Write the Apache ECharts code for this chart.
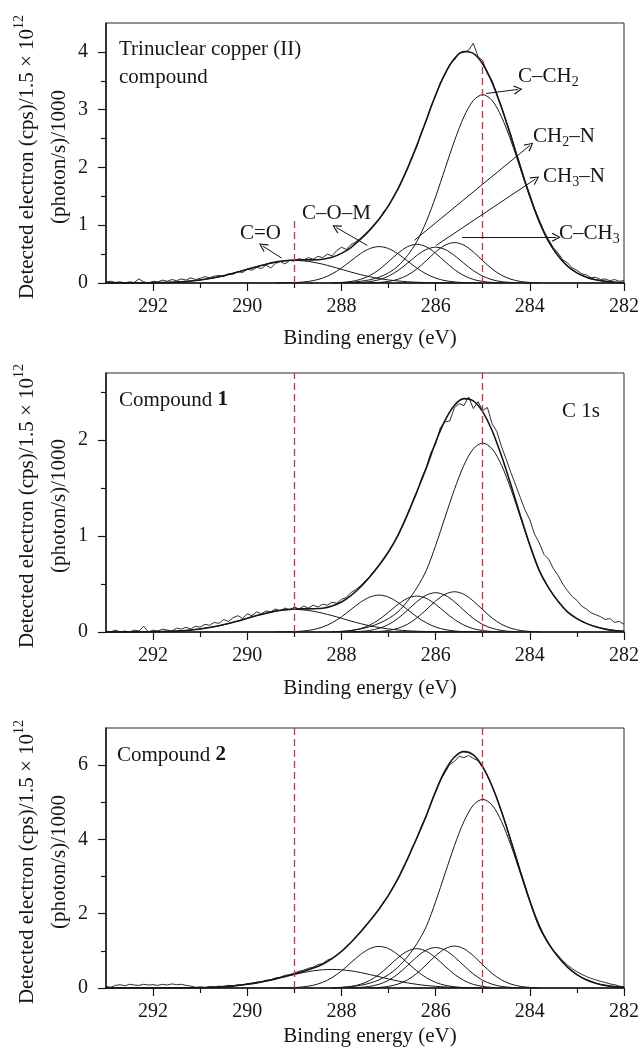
<!DOCTYPE html>
<html>
<head>
<meta charset="utf-8">
<title>C 1s XPS spectra</title>
<script src="https://cdn.jsdelivr.net/npm/echarts@6/dist/echarts.min.js"></script>
<style>
  html, body { margin: 0; padding: 0; background: #ffffff; }
  #chart { width: 642px; height: 1055px; }
</style>
</head>
<body>
<div id="chart"></div>
<script>
// ---------- energy grids (eV) ----------
const energyRaw = [
  293, 292.9, 292.8, 292.7, 292.6, 292.5, 292.4, 292.3, 292.2, 292.1,
  292, 291.9, 291.8, 291.7, 291.6, 291.5, 291.4, 291.3, 291.2, 291.1,
  291, 290.9, 290.8, 290.7, 290.6, 290.5, 290.4, 290.3, 290.2, 290.1,
  290, 289.9, 289.8, 289.7, 289.6, 289.5, 289.4, 289.3, 289.2, 289.1,
  289, 288.9, 288.8, 288.7, 288.6, 288.5, 288.4, 288.3, 288.2, 288.1,
  288, 287.9, 287.8, 287.7, 287.6, 287.5, 287.4, 287.3, 287.2, 287.1,
  287, 286.9, 286.8, 286.7, 286.6, 286.5, 286.4, 286.3, 286.2, 286.1,
  286, 285.9, 285.8, 285.7, 285.6, 285.5, 285.4, 285.3, 285.2, 285.1,
  285, 284.9, 284.8, 284.7, 284.6, 284.5, 284.4, 284.3, 284.2, 284.1,
  284, 283.9, 283.8, 283.7, 283.6, 283.5, 283.4, 283.3, 283.2, 283.1,
  283, 282.9, 282.8, 282.7, 282.6, 282.5, 282.4, 282.3, 282.2, 282.1,
  282
];
const energyFit = [
  293, 292.8, 292.6, 292.4, 292.2, 292, 291.8, 291.6, 291.4, 291.2,
  291, 290.8, 290.6, 290.4, 290.2, 290, 289.8, 289.6, 289.4, 289.2,
  289, 288.8, 288.6, 288.4, 288.2, 288, 287.8, 287.6, 287.4, 287.2,
  287, 286.8, 286.6, 286.4, 286.2, 286, 285.8, 285.6, 285.4, 285.2,
  285, 284.8, 284.6, 284.4, 284.2, 284, 283.8, 283.6, 283.4, 283.2,
  283, 282.8, 282.6, 282.4, 282.2, 282
];

// ---------- axis ticks ----------
const xMajor = [282, 284, 286, 288, 290, 292];
const xMinor = [283, 285, 287, 289, 291];
const yMajor1 = [0, 1, 2, 3, 4];
const yMinor1 = [0.5, 1.5, 2.5, 3.5];
const yMajor2 = [0, 1, 2];
const yMinor2 = [0.5, 1.5, 2.5];
const yMajor3 = [0, 2, 4, 6];
const yMinor3 = [1, 3, 5];

// reference energies marked with dashed lines, and how high each line reaches
const guideEnergies = [289, 285];
const guideTop1 = [1.13, 3.85];
const guideTop2 = [2.7, 2.7];
const guideTop3 = [7, 7];

// ---------- trinuclear copper(II) compound ----------
const raw1 = [
  0.02, 0.03, 0.01, 0.02, 0, 0.02, 0.01, 0.07, 0.02, 0,
  0.03, 0.02, 0.05, 0.03, 0.06, 0.04, 0.07, 0.05, 0.09, 0.06,
  0.08, 0.11, 0.09, 0.12, 0.13, 0.11, 0.16, 0.15, 0.2, 0.18,
  0.24, 0.22, 0.27, 0.25, 0.31, 0.26, 0.34, 0.37, 0.33, 0.39,
  0.38, 0.42, 0.4, 0.44, 0.41, 0.46, 0.44, 0.5, 0.47, 0.56,
  0.62, 0.58, 0.66, 0.71, 0.77, 0.85, 0.93, 1.02, 1.1, 1.24,
  1.33, 1.49, 1.62, 1.81, 1.97, 2.19, 2.36, 2.61, 2.8, 3.06,
  3.24, 3.47, 3.61, 3.79, 3.86, 3.98, 3.99, 4.03, 4.15, 3.92,
  3.85, 3.62, 3.5, 3.27, 3.05, 2.8, 2.56, 2.28, 2.03, 1.76,
  1.53, 1.29, 1.09, 0.9, 0.75, 0.61, 0.52, 0.4, 0.35, 0.26,
  0.22, 0.16, 0.14, 0.09, 0.1, 0.06, 0.07, 0.04, 0.06, 0.03,
  0.04
];
const envelope1 = [
  0, 0.001, 0.001, 0.002, 0.002, 0.004, 0.008, 0.013, 0.022, 0.035,
  0.053, 0.077, 0.108, 0.146, 0.19, 0.237, 0.283, 0.326, 0.361, 0.384,
  0.397, 0.4, 0.401, 0.412, 0.446, 0.513, 0.614, 0.754, 0.914, 1.107,
  1.34, 1.628, 1.98, 2.378, 2.818, 3.255, 3.625, 3.887, 4.007, 3.974,
  3.79, 3.469, 3.033, 2.535, 2.006, 1.503, 1.063, 0.717, 0.473, 0.293,
  0.176, 0.101, 0.055, 0.029, 0.013, 0.007
];
// fitted components; each list starts at the energy given in *From
const peakCO1From = 293;
const peakCO1 = [0, 0.001, 0.001, 0.002, 0.002, 0.004, 0.008, 0.013, 0.022, 0.035, 0.053, 0.077, 0.108, 0.146, 0.19, 0.237, 0.283, 0.326, 0.36, 0.382, 0.39, 0.382, 0.36, 0.326, 0.283, 0.237, 0.19, 0.146, 0.108, 0.077, 0.053, 0.035, 0.022, 0.013, 0.008, 0.004, 0.002, 0.001];
const peakCOM1From = 289.4;
const peakCOM1 = [0.001, 0.002, 0.007, 0.018, 0.041, 0.085, 0.157, 0.259, 0.382, 0.505, 0.596, 0.63, 0.596, 0.505, 0.382, 0.259, 0.157, 0.085, 0.041, 0.018, 0.007, 0.002, 0.001];
const peakCH2N1From = 288.2;
const peakCH2N1 = [0.003, 0.01, 0.026, 0.062, 0.128, 0.232, 0.37, 0.515, 0.627, 0.67, 0.627, 0.515, 0.37, 0.232, 0.128, 0.062, 0.026, 0.01, 0.003];
const peakCH3N1From = 287.8;
const peakCH3N1 = [0.003, 0.009, 0.024, 0.057, 0.118, 0.215, 0.342, 0.476, 0.58, 0.62, 0.58, 0.476, 0.342, 0.215, 0.118, 0.057, 0.024, 0.009, 0.003];
const peakCCH31From = 287.4;
const peakCCH31 = [0.003, 0.01, 0.027, 0.065, 0.134, 0.243, 0.386, 0.538, 0.655, 0.7, 0.655, 0.538, 0.386, 0.243, 0.134, 0.065, 0.027, 0.01, 0.003];
const peakCCH21From = 288.2;
const peakCCH21 = [0.003, 0.007, 0.013, 0.029, 0.055, 0.101, 0.176, 0.293, 0.473, 0.717, 1.06, 1.493, 1.979, 2.461, 2.875, 3.159, 3.26, 3.159, 2.875, 2.461, 1.979, 1.493, 1.06, 0.717, 0.473, 0.293, 0.176, 0.101, 0.055, 0.029, 0.013, 0.007];

// ---------- compound 1 ----------
const raw2 = [
  0.01, 0, 0.02, 0, 0.01, 0, 0.02, 0.01, 0.06, 0,
  0.02, 0.01, 0.03, 0.02, 0.01, 0.04, 0.03, 0.05, 0.03, 0.06,
  0.05, 0.08, 0.07, 0.1, 0.09, 0.13, 0.11, 0.15, 0.17, 0.14,
  0.19, 0.17, 0.21, 0.19, 0.22, 0.21, 0.24, 0.22, 0.25, 0.23,
  0.26, 0.24, 0.27, 0.25, 0.28, 0.26, 0.29, 0.28, 0.31, 0.3,
  0.34, 0.36, 0.41, 0.44, 0.48, 0.53, 0.58, 0.64, 0.7, 0.77,
  0.84, 0.92, 1.01, 1.11, 1.22, 1.34, 1.45, 1.6, 1.71, 1.87,
  1.96, 2.13, 2.19, 2.2, 2.34, 2.38, 2.36, 2.45, 2.33, 2.4,
  2.31, 2.34, 2.17, 2.09, 1.93, 1.8, 1.66, 1.53, 1.4, 1.27,
  1.17, 1.02, 0.93, 0.81, 0.76, 0.66, 0.59, 0.5, 0.43, 0.37,
  0.33, 0.27, 0.24, 0.2, 0.18, 0.16, 0.13, 0.14, 0.1, 0.11,
  0.08
];
const envelope2 = [
  0, 0, 0, 0.001, 0.001, 0.003, 0.005, 0.008, 0.013, 0.021,
  0.032, 0.047, 0.065, 0.088, 0.114, 0.143, 0.171, 0.196, 0.218, 0.232,
  0.239, 0.241, 0.242, 0.248, 0.272, 0.313, 0.38, 0.467, 0.574, 0.696,
  0.837, 1.008, 1.224, 1.462, 1.708, 1.978, 2.205, 2.363, 2.433, 2.409,
  2.295, 2.098, 1.834, 1.532, 1.212, 0.908, 0.642, 0.46, 0.32, 0.21,
  0.14, 0.09, 0.055, 0.03, 0.015, 0.007
];
const peakCO2From = 293;
const peakCO2 = [0, 0, 0, 0.001, 0.001, 0.003, 0.005, 0.008, 0.013, 0.021, 0.032, 0.047, 0.065, 0.088, 0.114, 0.143, 0.171, 0.196, 0.217, 0.23, 0.235, 0.23, 0.217, 0.196, 0.171, 0.143, 0.114, 0.088, 0.065, 0.047, 0.032, 0.021, 0.013, 0.008, 0.005, 0.003, 0.001, 0.001];
const peakCOM2From = 289.4;
const peakCOM2 = [0.001, 0.002, 0.004, 0.011, 0.025, 0.052, 0.096, 0.158, 0.234, 0.308, 0.364, 0.385, 0.364, 0.308, 0.234, 0.158, 0.096, 0.052, 0.025, 0.011, 0.004, 0.002, 0.001];
const peakCH2N2From = 288.2;
const peakCH2N2 = [0.002, 0.005, 0.015, 0.035, 0.072, 0.13, 0.207, 0.288, 0.351, 0.375, 0.351, 0.288, 0.207, 0.13, 0.072, 0.035, 0.015, 0.005, 0.002];
const peakCH3N2From = 287.8;
const peakCH3N2 = [0.002, 0.006, 0.016, 0.038, 0.078, 0.142, 0.226, 0.315, 0.384, 0.41, 0.384, 0.315, 0.226, 0.142, 0.078, 0.038, 0.016, 0.006, 0.002];
const peakCCH32From = 287.4;
const peakCCH32 = [0.002, 0.006, 0.016, 0.039, 0.08, 0.146, 0.232, 0.323, 0.393, 0.42, 0.393, 0.323, 0.232, 0.146, 0.08, 0.039, 0.016, 0.006, 0.002];
const peakCCH22From = 288.2;
const peakCCH22 = [0.003, 0.007, 0.015, 0.03, 0.055, 0.09, 0.14, 0.21, 0.32, 0.46, 0.64, 0.902, 1.196, 1.487, 1.738, 1.909, 1.97, 1.909, 1.738, 1.487, 1.196, 0.902, 0.64, 0.46, 0.32, 0.21, 0.14, 0.09, 0.055, 0.03, 0.015, 0.007];

// ---------- compound 2 ----------
const raw3 = [
  0.04, 0.02, 0.07, 0.09, 0.06, 0.1, 0.08, 0.07, 0.1, 0.08,
  0.09, 0.07, 0.1, 0.08, 0.11, 0.09, 0.1, 0.07, 0.05, 0.02,
  0.03, 0.01, 0.04, 0.03, 0.05, 0.04, 0.07, 0.06, 0.09, 0.08,
  0.12, 0.13, 0.16, 0.17, 0.21, 0.22, 0.27, 0.29, 0.34, 0.36,
  0.4, 0.45, 0.48, 0.53, 0.56, 0.63, 0.66, 0.75, 0.8, 0.9,
  0.99, 1.12, 1.23, 1.37, 1.5, 1.67, 1.8, 1.97, 2.12, 2.33,
  2.49, 2.72, 2.93, 3.22, 3.45, 3.78, 4.02, 4.36, 4.62, 4.98,
  5.27, 5.6, 5.8, 6.02, 6.1, 6.24, 6.2, 6.26, 6.18, 6.12,
  5.93, 5.72, 5.42, 5.12, 4.74, 4.37, 3.95, 3.56, 3.14, 2.75,
  2.36, 2.01, 1.7, 1.43, 1.21, 1.02, 0.88, 0.73, 0.62, 0.52,
  0.44, 0.37, 0.31, 0.26, 0.22, 0.18, 0.15, 0.11, 0.09, 0.05,
  0.03
];
const envelope3 = [
  0, 0, 0, 0, 0, 0, 0.001, 0.001, 0.003, 0.006,
  0.01, 0.017, 0.028, 0.045, 0.068, 0.099, 0.139, 0.188, 0.245, 0.308,
  0.375, 0.45, 0.536, 0.641, 0.792, 0.983, 1.225, 1.499, 1.803, 2.129,
  2.501, 2.942, 3.469, 4.038, 4.634, 5.295, 5.849, 6.219, 6.365, 6.277,
  5.954, 5.431, 4.745, 3.956, 3.133, 2.343, 1.656, 1.19, 0.84, 0.56,
  0.36, 0.22, 0.13, 0.07, 0.036, 0.018
];
const peakCO3From = 293;
const peakCO3 = [0, 0, 0, 0, 0, 0, 0.001, 0.001, 0.003, 0.006, 0.01, 0.017, 0.028, 0.045, 0.068, 0.099, 0.139, 0.188, 0.244, 0.304, 0.363, 0.418, 0.462, 0.49, 0.5, 0.49, 0.462, 0.418, 0.363, 0.304, 0.244, 0.188, 0.139, 0.099, 0.068, 0.045, 0.028, 0.017, 0.01, 0.006, 0.003, 0.001];
const peakCOM3From = 289.4;
const peakCOM3 = [0.001, 0.004, 0.012, 0.032, 0.074, 0.151, 0.279, 0.46, 0.68, 0.897, 1.06, 1.12, 1.06, 0.897, 0.68, 0.46, 0.279, 0.151, 0.074, 0.032, 0.012, 0.004, 0.001];
const peakCH2N3From = 288.2;
const peakCH2N3 = [0.005, 0.015, 0.042, 0.098, 0.202, 0.368, 0.585, 0.814, 0.992, 1.06, 0.992, 0.814, 0.585, 0.368, 0.202, 0.098, 0.042, 0.015, 0.005];
const peakCH3N3From = 287.8;
const peakCH3N3 = [0.005, 0.016, 0.043, 0.101, 0.208, 0.378, 0.602, 0.837, 1.02, 1.09, 1.02, 0.837, 0.602, 0.378, 0.208, 0.101, 0.043, 0.016, 0.005];
const peakCCH33From = 287.4;
const peakCCH33 = [0.005, 0.016, 0.044, 0.105, 0.216, 0.392, 0.624, 0.868, 1.058, 1.13, 1.058, 0.868, 0.624, 0.392, 0.216, 0.105, 0.044, 0.016, 0.005];
const peakCCH23From = 288.2;
const peakCCH23 = [0.008, 0.018, 0.036, 0.07, 0.13, 0.22, 0.36, 0.56, 0.84, 1.19, 1.651, 2.327, 3.084, 3.835, 4.481, 4.923, 5.08, 4.923, 4.481, 3.835, 3.084, 2.327, 1.651, 1.19, 0.84, 0.56, 0.36, 0.22, 0.13, 0.07, 0.036, 0.018];

// arrows tying the peak names to their components (energy, intensity)
const arrowFrom = [[289.27, 0.43], [287.45, 0.65], [284.93, 3.28], [286.45, 0.74], [285.99, 0.65], [285.44, 0.79]];
const arrowTo   = [[289.67, 0.64], [288.11, 0.96], [284.25, 3.35], [284.0, 2.38], [283.88, 1.8], [283.44, 0.79]];

// ---------- drawing ----------
const FONT = "'Liberation Serif', 'Times New Roman', Times, serif";
const INK = '#161616';
const RED = '#a3454c';
const CHEVRON = 'path://M0,10 L5,0 L10,10 L8.9,10.9 L5,2.8 L1.1,10.9 Z';
const TEXT_SIZE = 21;

function pairs(xs, ys) { return ys.map((y, i) => [xs[i], y]); }
function fitPairs(from, values) {
  const i0 = energyFit.findIndex(e => Math.abs(e - from) < 1e-6);
  return values.map((v, i) => [energyFit[i0 + i], v]);
}

const panels = [
  { top: 23, height: 260, yMax: 4.5, yMajor: yMajor1, yMinor: yMinor1, raw: raw1, envelope: envelope1, guides: guideTop1,
    comps: [[peakCO1From, peakCO1], [peakCOM1From, peakCOM1], [peakCH2N1From, peakCH2N1], [peakCH3N1From, peakCH3N1], [peakCCH31From, peakCCH31], [peakCCH21From, peakCCH21]] },
  { top: 373, height: 259, yMax: 2.7, yMajor: yMajor2, yMinor: yMinor2, raw: raw2, envelope: envelope2, guides: guideTop2,
    comps: [[peakCO2From, peakCO2], [peakCOM2From, peakCOM2], [peakCH2N2From, peakCH2N2], [peakCH3N2From, peakCH3N2], [peakCCH32From, peakCCH32], [peakCCH22From, peakCCH22]] },
  { top: 728, height: 260, yMax: 7, yMajor: yMajor3, yMinor: yMinor3, raw: raw3, envelope: envelope3, guides: guideTop3,
    comps: [[peakCO3From, peakCO3], [peakCOM3From, peakCOM3], [peakCH2N3From, peakCH2N3], [peakCH3N3From, peakCH3N3], [peakCCH33From, peakCCH33], [peakCCH23From, peakCCH23]] }
];

const grid = [], xAxis = [], yAxis = [], series = [];
const tickLine = { color: INK, width: 1.2 };
const labelStyle = { color: INK, fontFamily: FONT, fontSize: 20 };

panels.forEach((p, k) => {
  grid.push({ left: 106, right: 17, top: p.top, height: p.height, show: true,
    borderColor: '#2a2a2a', borderWidth: 1, backgroundColor: 'transparent' });

  xAxis.push({ type: 'value', gridIndex: k, min: 282, max: 293, inverse: true, position: 'bottom',
    axisLine: { show: true, onZero: false, lineStyle: { color: INK, width: 1.5 } },
    axisTick: { show: true, inside: false, length: 8, customValues: xMajor, lineStyle: tickLine },
    axisLabel: Object.assign({ show: true, customValues: xMajor, margin: 14 }, labelStyle),
    splitLine: { show: false } });
  xAxis.push({ type: 'value', gridIndex: k, min: 282, max: 293, inverse: true, position: 'bottom',
    axisLine: { show: false, onZero: false },
    axisTick: { show: true, inside: false, length: 5, customValues: xMinor, lineStyle: tickLine },
    axisLabel: { show: false }, splitLine: { show: false } });

  yAxis.push({ type: 'value', gridIndex: k, min: 0, max: p.yMax, position: 'left',
    axisLine: { show: true, onZero: false, lineStyle: { color: INK, width: 1.5 } },
    axisTick: { show: true, inside: false, length: 8, customValues: p.yMajor, lineStyle: tickLine },
    axisLabel: Object.assign({ show: true, customValues: p.yMajor, margin: 18 }, labelStyle),
    splitLine: { show: false } });
  yAxis.push({ type: 'value', gridIndex: k, min: 0, max: p.yMax, position: 'left',
    axisLine: { show: false, onZero: false },
    axisTick: { show: true, inside: false, length: 5, customValues: p.yMinor, lineStyle: tickLine },
    axisLabel: { show: false }, splitLine: { show: false } });

  const base = { type: 'line', xAxisIndex: 2 * k, yAxisIndex: 2 * k, symbol: 'none', showSymbol: false,
    silent: true, animation: false, emphasis: { disabled: true } };

  // measured spectrum
  series.push(Object.assign({}, base, { data: pairs(energyRaw, p.raw), z: 3,
    lineStyle: { color: INK, width: 0.9 } }));

  // fitted envelope with the dashed reference energies
  series.push(Object.assign({}, base, { data: pairs(energyFit, p.envelope), smooth: 0.3, z: 4,
    lineStyle: { color: INK, width: 1.6 },
    markLine: { silent: true, animation: false, symbol: ['none', 'none'], label: { show: false },
      emphasis: { disabled: true },
      lineStyle: { color: RED, width: 1.3, type: [7, 4] },
      data: guideEnergies.map((e, i) => [{ coord: [e, 0] }, { coord: [e, p.guides[i]] }]) } }));

  // individual components
  p.comps.forEach(([from, vals], ci) => {
    const s = Object.assign({}, base, { data: fitPairs(from, vals), smooth: 0.3, z: 2,
      lineStyle: { color: INK, width: 1 } });
    if (k === 0 && ci === 0) {
      s.markLine = { silent: true, animation: false, symbol: ['none', CHEVRON], symbolSize: 9,
        label: { show: false }, emphasis: { disabled: true },
        lineStyle: { color: INK, width: 1, type: 'solid' },
        data: arrowFrom.map((a, i) => [{ coord: a }, { coord: arrowTo[i] }]) };
    }
    series.push(s);
  });
});

// ---------- text ----------
// main glyph row aligned to the top of the line, subscripts dropped to its bottom
const rm = { fontFamily: FONT, fontSize: TEXT_SIZE, lineHeight: 24, verticalAlign: 'top' };
const rs = { fontFamily: FONT, fontSize: 14, lineHeight: 14, verticalAlign: 'bottom' };
function text(x, y, str, extra) {
  return Object.assign({ type: 'text', x: x, y: y, silent: true, z: 100,
    style: { text: str, fill: INK, fontFamily: FONT, fontSize: TEXT_SIZE, align: 'left', verticalAlign: 'middle' } }, extra || {});
}
function chem(x, y, str) {
  // y is the middle of the main glyph row
  return { type: 'text', x: x, y: y + 1.5, silent: true, z: 100,
    style: { text: str, fill: INK, align: 'left', verticalAlign: 'middle', rich: { m: rm, s: rs } } };
}
function centered(x, y, str) {
  const t = text(x, y, str); t.style.align = 'center'; return t;
}
function yTitle(cy) {
  return [
    { type: 'text', x: 25, y: cy, rotation: Math.PI / 2, silent: true, z: 100,
      style: { text: '{m|Detected electron (cps)/1.5 × 10}{p|12}', fill: INK, align: 'center', verticalAlign: 'middle',
        rich: { m: { fontFamily: FONT, fontSize: TEXT_SIZE, lineHeight: 26, verticalAlign: 'bottom' },
                p: { fontFamily: FONT, fontSize: 14, lineHeight: 14, verticalAlign: 'top' } } } },
    { type: 'text', x: 59, y: cy, rotation: Math.PI / 2, silent: true, z: 100,
      style: { text: '(photon/s)/1000', fill: INK, fontFamily: FONT, fontSize: TEXT_SIZE, align: 'center', verticalAlign: 'middle' } }
  ];
}
function compound(x, y, n) {
  return { type: 'text', x: x, y: y, silent: true, z: 100,
    style: { text: '{n|Compound }{b|' + n + '}', fill: INK, align: 'left', verticalAlign: 'middle',
      rich: { n: { fontFamily: FONT, fontSize: TEXT_SIZE }, b: { fontFamily: FONT, fontSize: TEXT_SIZE, fontWeight: 'bold' } } } };
}

const graphic = [
  text(119, 49, 'Trinuclear copper (II)'),
  text(119, 77, 'compound'),
  text(240, 233, 'C=O'),
  text(302, 213, 'C–O–M'),
  chem(518, 76, '{m|C–CH}{s|2}'),
  chem(533, 136, '{m|CH}{s|2}{m|–N}'),
  chem(543, 176, '{m|CH}{s|3}{m|–N}'),
  chem(559, 233, '{m|C–CH}{s|3}'),
  centered(370, 338, 'Binding energy (eV)'),
  compound(119, 400, '1'),
  text(562, 411, 'C 1s'),
  centered(370, 688, 'Binding energy (eV)'),
  compound(117, 755, '2'),
  centered(370, 1036, 'Binding energy (eV)')
].concat(yTitle(157), yTitle(506), yTitle(862));

const chart = echarts.init(document.getElementById('chart'), null, { renderer: 'canvas' });
chart.setOption({
  backgroundColor: '#ffffff',
  animation: false,
  grid: grid,
  xAxis: xAxis,
  yAxis: yAxis,
  series: series,
  graphic: graphic
});
</script>
</body>
</html>
